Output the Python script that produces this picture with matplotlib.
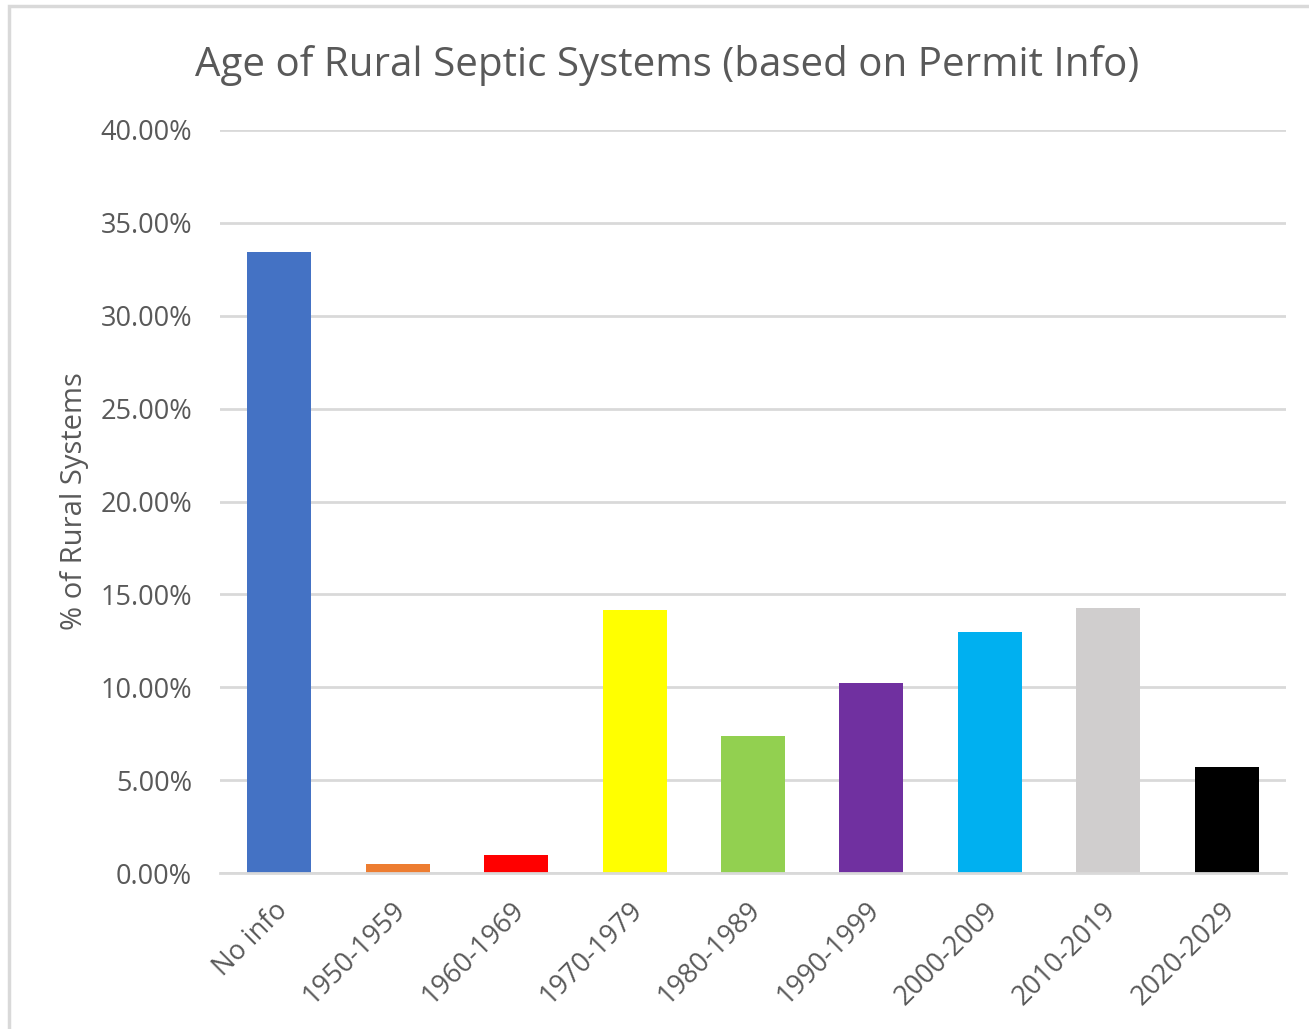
import matplotlib
matplotlib.use("Agg")
import matplotlib.pyplot as plt
import matplotlib.transforms as mtransforms
from matplotlib.patches import Rectangle
from matplotlib.ticker import MultipleLocator, FuncFormatter

categories = ["No info", "1950-1959", "1960-1969", "1970-1979", "1980-1989",
              "1990-1999", "2000-2009", "2010-2019", "2020-2029"]
values = [33.45, 0.48, 0.97, 14.15, 7.38, 10.23, 12.97, 14.25, 5.70]
colors = ["#4472C4", "#ED7D31", "#FF0000", "#FFFF00", "#92D050",
          "#7030A0", "#00B0F0", "#D0CECE", "#000000"]

txt = "#595959"
plt.rcParams['font.family'] = ['Open Sans', 'DejaVu Sans']

fig = plt.figure(figsize=(13.09, 10.29), dpi=100)
# outer chart border (light grey, clipped at right/bottom like the screenshot)
fig.patches.append(Rectangle((9 / 1309, -0.01), 1.0, 1 - 6 / 1029 + 0.01,
                             transform=fig.transFigure, fill=False,
                             edgecolor="#D9D9D9", linewidth=2.5))

ax = fig.add_axes([220 / 1309, 1 - 873 / 1029, (1286 - 220) / 1309, (873 - 130) / 1029])
ax.bar(range(len(values)), values, width=0.54, color=colors, zorder=3)

ax.set_xlim(-0.5, len(values) - 0.5)
ax.set_ylim(0, 40)
ax.yaxis.set_major_locator(MultipleLocator(5))
ax.yaxis.set_major_formatter(FuncFormatter(lambda v, p: f"{v:.2f}%"))
ax.grid(axis="y", color="#D9D9D9", linewidth=2, zorder=0)
for s in ["top", "right", "left"]:
    ax.spines[s].set_visible(False)
ax.spines["bottom"].set_color("#D9D9D9")
ax.spines["bottom"].set_linewidth(2)
ax.spines["bottom"].set_zorder(4)
ax.tick_params(length=0, colors=txt, labelsize=19.5)
ax.tick_params(axis="y", pad=20)
ax.set_xticks(range(len(categories)))
ax.set_xticklabels(categories, rotation=45, ha="right", rotation_mode="anchor")
ax.tick_params(axis="x", pad=17)
shift = mtransforms.ScaledTranslation(-6 / 100, 0, fig.dpi_scale_trans)
for lab in ax.get_xticklabels():
    lab.set_transform(lab.get_transform() + shift)

ax.set_ylabel("% of Rural Systems", fontsize=21, color=txt, labelpad=8)
fig.text(667 / 1309, 1 - 66 / 1029, "Age of Rural Septic Systems (based on Permit Info)",
         ha="center", va="center", fontsize=29, color=txt)

fig.savefig("out.png", dpi=100, facecolor="white")
